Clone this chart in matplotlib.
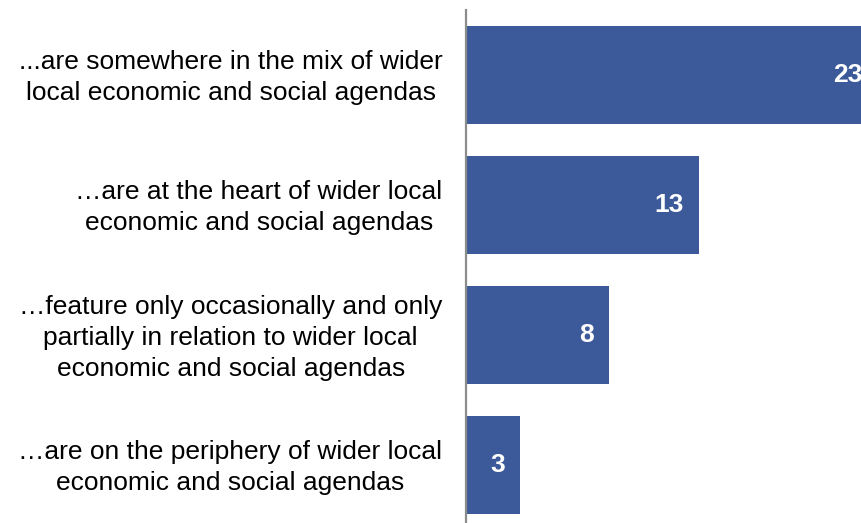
import matplotlib
matplotlib.use("Agg")
import matplotlib.pyplot as plt
from matplotlib.transforms import ScaledTranslation

categories = [
    "...are somewhere in the mix of wider\nlocal economic and social agendas",
    "\u2026are at the heart of wider local\neconomic and social agendas",
    "\u2026feature only occasionally and only\npartially in relation to wider local\neconomic and social agendas",
    "\u2026are on the periphery of wider local\neconomic and social agendas",
]
values = [23, 13, 8, 3]

plt.rcParams['font.family'] = ['Liberation Sans', 'DejaVu Sans']

fig = plt.figure(figsize=(8.61, 5.23), dpi=100)
W, H = 861, 523
left_px, top_px = 466, 10
ax = fig.add_axes([left_px / W, 0, 412 / W, (H - top_px) / H])

y = list(range(len(values)))
bars = ax.barh(y, values, height=0.754, color="#3C5A99", zorder=2)
ax.set_xlim(0, 23)
ax.set_ylim(3.446, -0.504)

for s in ["top", "right", "bottom"]:
    ax.spines[s].set_visible(False)
ax.spines["left"].set_color("#8c8c8c")
ax.spines["left"].set_linewidth(1.6)
ax.spines["left"].set_zorder(3)
ax.set_xticks([])
ax.set_yticks(y)
ax.set_yticklabels(categories, fontsize=19, ha="right", multialignment="center",
                   linespacing=1.37)
ax.tick_params(axis="y", length=0, pad=17)
shift = ScaledTranslation(0, 3.5 / 100, fig.dpi_scale_trans)
for lab in ax.get_yticklabels():
    lab.set_transform(lab.get_transform() + shift)

for yi, v in zip(y, values):
    ax.annotate(str(v), xy=(v, yi), xytext=(-15, 0), textcoords="offset pixels",
                ha="right", va="center", color="white", fontsize=19,
                fontweight="bold")

fig.savefig("out.png", dpi=100)
